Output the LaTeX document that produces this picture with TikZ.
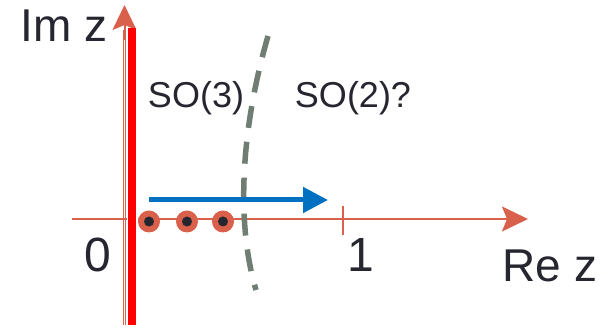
\documentclass[tikz,border=0pt]{standalone}
\usepackage{fontspec}
\setmainfont{Liberation Sans}
\usetikzlibrary{arrows.meta}
\definecolor{axisc}{HTML}{D9604A}
\definecolor{txt}{HTML}{262630}
\definecolor{bluec}{HTML}{0070C0}
\definecolor{dashc}{HTML}{6F7D73}
\definecolor{redc}{HTML}{FF0000}
\begin{document}
\begin{tikzpicture}[x=1pt,y=-1pt,
  lbl/.style={text=txt,inner sep=0pt,anchor=base},
  axisline/.style={draw=axisc,line width=2pt},
  dotout/.style={circle,fill=axisc,minimum size=22pt,inner sep=0pt},
  dotin/.style={circle,fill=txt,minimum size=10pt,inner sep=0pt}]
\useasboundingbox (0,0) rectangle (614,328);
% coordinates
\coordinate (vb) at (124.5,325);
\coordinate (vt) at (124.5,5);
\coordinate (hl) at (72,219);
\coordinate (hr) at (528,219);
\coordinate (rb) at (132,325);
\coordinate (rt) at (132,28);
\coordinate (tkt) at (343,206);
\coordinate (tkb) at (343,235);
\coordinate (ba) at (149,200);
\coordinate (bb) at (328,200);
\coordinate (c0) at (268,36);
\coordinate (c1) at (256,290);
% axes
\draw[axisc,line width=1pt,double=white,double distance=1.3pt] (vb) -- (124.5,30);
\draw[axisline,-{Stealth[length=25pt,width=24pt,inset=5pt]}] (124.5,40) -- (vt);
\draw[axisline,-{Stealth[length=26pt,width=25pt,inset=5pt]}] (hl) -- (hr);
\draw[axisline] (tkt) -- (tkb);
% red thick line
\draw[white,line width=11pt] (rb) -- (rt);
\draw[redc,line width=7.5pt] (rb) -- (rt);
% dashed curve
\draw[dashc,line width=5.5pt,dash pattern=on 22pt off 14pt] (c0) .. controls (238,140) and (238,230) .. (c1);
% blue arrow
\draw[bluec,line width=5pt,-{Triangle[length=25pt,width=25pt]}] (ba) -- (bb);
% dots
\foreach \n/\x in {d1/149,d2/187,d3/223}{
  \node[dotout] (\n) at (\x,221.5) {};
  \node[dotin] at (\n) {};
}
% labels
\node[lbl,font=\fontsize{46}{52}\selectfont] (im) at (64,42) {Im z};
\node[lbl,font=\fontsize{36}{42}\selectfont] (so3) at (196,108) {SO(3)};
\node[lbl,font=\fontsize{36}{42}\selectfont] (so2) at (353,108) {SO(2)?};
\node[lbl,font=\fontsize{48}{54}\selectfont] (zero) at (98,272) {0};
\node[lbl,font=\fontsize{48}{54}\selectfont] (one) at (361,272) {1};
\node[lbl,font=\fontsize{46}{52}\selectfont] (re) at (550,282) {Re z};
\end{tikzpicture}
\end{document}
